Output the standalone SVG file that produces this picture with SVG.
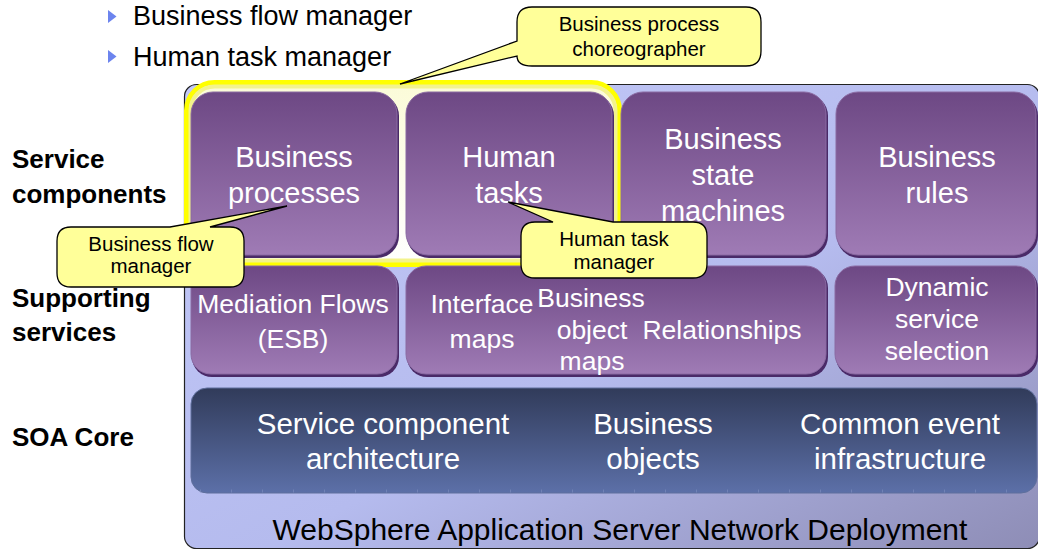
<svg xmlns="http://www.w3.org/2000/svg" width="1038" height="550" viewBox="0 0 1038 550">
<style>
.t{font-family:"Liberation Sans",Arial,sans-serif}
.w{fill:#ffffff;text-anchor:middle}
.r1{font-size:29px}
.r2{font-size:26.5px}
.soa{font-size:29.5px}
.lbl{font-size:26px;font-weight:bold;fill:#000}
.bul{font-size:27px;fill:#000}
.co{font-size:20.5px;fill:#000;text-anchor:middle}
.box{fill:url(#gBox);stroke:#8a6aa2;stroke-width:1}
.shadow{fill:#4a2a68}
.callout{fill:#ffff99;stroke:#000;stroke-width:1.3}
</style>
<defs>
<linearGradient id="gFrame" x1="0" y1="0" x2="1" y2="1">
<stop offset="0" stop-color="#c3c9f8"/>
<stop offset="0.55" stop-color="#b5bbee"/>
<stop offset="1" stop-color="#8e8db6"/>
</linearGradient>
<linearGradient id="gBox" x1="0" y1="0" x2="0" y2="1">
<stop offset="0" stop-color="#6d4884"/>
<stop offset="1" stop-color="#9f7bb5"/>
</linearGradient>
<linearGradient id="gSoa" x1="0" y1="0" x2="0" y2="1">
<stop offset="0" stop-color="#313b5a"/>
<stop offset="1" stop-color="#5c70a8"/>
</linearGradient>
<linearGradient id="gHl" x1="0" y1="0" x2="0" y2="1">
<stop offset="0" stop-color="#fbfbd8"/>
<stop offset="1" stop-color="#ffffff"/>
</linearGradient>
</defs>

<g id="bullets">
<polygon points="108,10 116.5,16.5 108,23" fill="#6c84ee"/>
<text class="t bul" x="133" y="25">Business flow manager</text>
<polygon points="108,50 116.5,56.5 108,63" fill="#6c84ee"/>
<text class="t bul" x="133" y="66">Human task manager</text>
</g>

<g id="layer-labels">
<text class="t lbl" x="12" y="168">Service</text>
<text class="t lbl" x="12" y="203">components</text>
<text class="t lbl" x="12" y="307">Supporting</text>
<text class="t lbl" x="12" y="341">services</text>
<text class="t lbl" x="12" y="446">SOA Core</text>
</g>

<g id="frame">
<rect x="184.5" y="84.5" width="855" height="464" rx="12" fill="url(#gFrame)" stroke="#222" stroke-width="1.2"/>
<text class="t" x="620" y="540" font-size="30" text-anchor="middle" fill="#000">WebSphere Application Server Network Deployment</text>
</g>

<g id="highlight">
<rect x="186.5" y="82.5" width="433" height="182" rx="28" fill="url(#gHl)" stroke="#ffff00" stroke-width="5"/>
<rect x="190.5" y="86.5" width="425" height="174" rx="24" fill="none" stroke="#f3f38c" stroke-width="4"/>
</g>

<g id="business-processes">
<rect class="shadow" x="192" y="94" width="207" height="164" rx="22"/>
<rect class="box" x="191" y="92" width="206" height="163" rx="22"/>
<text class="t w r1" x="294" y="167">Business</text>
<text class="t w r1" x="294" y="203">processes</text>
</g>
<g id="human-tasks">
<rect class="shadow" x="407" y="94" width="207" height="164" rx="22"/>
<rect class="box" x="406" y="92" width="206" height="163" rx="22"/>
<text class="t w r1" x="509" y="167">Human</text>
<text class="t w r1" x="509" y="203">tasks</text>
</g>
<g id="business-state-machines">
<rect class="shadow" x="622" y="94" width="206" height="164" rx="22"/>
<rect class="box" x="621" y="92" width="205" height="163" rx="22"/>
<text class="t w r1" x="723" y="149">Business</text>
<text class="t w r1" x="723" y="185">state</text>
<text class="t w r1" x="723" y="221">machines</text>
</g>
<g id="business-rules">
<rect class="shadow" x="837" y="94" width="201" height="164" rx="22"/>
<rect class="box" x="836" y="92" width="200" height="163" rx="22"/>
<text class="t w r1" x="937" y="167">Business</text>
<text class="t w r1" x="937" y="203">rules</text>
</g>

<g id="mediation-flows">
<rect class="shadow" x="192" y="268" width="207" height="109" rx="20"/>
<rect class="box" x="191" y="266" width="206" height="108" rx="20"/>
<text class="t w r2" x="293" y="313">Mediation Flows</text>
<text class="t w r2" x="293" y="348">(ESB)</text>
</g>
<g id="maps-relationships">
<rect class="shadow" x="407" y="268" width="421" height="109" rx="20"/>
<rect class="box" x="406" y="266" width="420" height="108" rx="20"/>
<text class="t w r2" x="482" y="313">Interface</text>
<text class="t w r2" x="482" y="348">maps</text>
<text class="t w r2" x="591" y="307">Business</text>
<text class="t w r2" x="592" y="339">object</text>
<text class="t w r2" x="592" y="370">maps</text>
<text class="t w r2" x="722" y="339">Relationships</text>
</g>
<g id="dynamic-service-selection">
<rect class="shadow" x="836" y="268" width="202" height="109" rx="20"/>
<rect class="box" x="835" y="266" width="201" height="108" rx="20"/>
<text class="t w r2" x="937" y="296">Dynamic</text>
<text class="t w r2" x="937" y="328">service</text>
<text class="t w r2" x="937" y="360">selection</text>
</g>

<g id="soa-core">
<rect x="191" y="388" width="846" height="105" rx="16" fill="url(#gSoa)" stroke="#5f6f9c" stroke-width="1"/>
<line x1="200" y1="491" x2="1030" y2="491" stroke="#8090c0" stroke-width="3" stroke-dasharray="1 30" opacity="0.6"/>
<text class="t w soa" x="383" y="434">Service component</text>
<text class="t w soa" x="383" y="469">architecture</text>
<text class="t w soa" x="653" y="434">Business</text>
<text class="t w soa" x="653" y="469">objects</text>
<text class="t w soa" x="900" y="434">Common event</text>
<text class="t w soa" x="900" y="469">infrastructure</text>
</g>

<g id="connectors"></g>

<g id="callout-choreographer">
<path class="callout" d="M532,7 H746 Q761,7 761,22 V51 Q761,66 746,66 H532 Q517,66 517,56 L400,84 L517,41 V22 Q517,7 532,7 Z"/>
<text class="t co" x="639" y="31" font-size="22">Business process</text>
<text class="t co" x="639" y="56" font-size="22">choreographer</text>
</g>
<g id="callout-business-flow-manager">
<path class="callout" d="M71,227 H170 L287,206 L210,227 H230 Q244,227 244,241 V273 Q244,287 230,287 H71 Q57,287 57,273 V241 Q57,227 71,227 Z"/>
<text class="t co" x="151" y="251">Business flow</text>
<text class="t co" x="151" y="273">manager</text>
</g>
<g id="callout-human-task-manager">
<path class="callout" d="M535,222 H553 L508,202 L613,222 H693 Q707,222 707,236 V264 Q707,278 693,278 H535 Q521,278 521,264 V236 Q521,222 535,222 Z"/>
<text class="t co" x="614" y="246">Human task</text>
<text class="t co" x="614" y="269">manager</text>
</g>
</svg>
